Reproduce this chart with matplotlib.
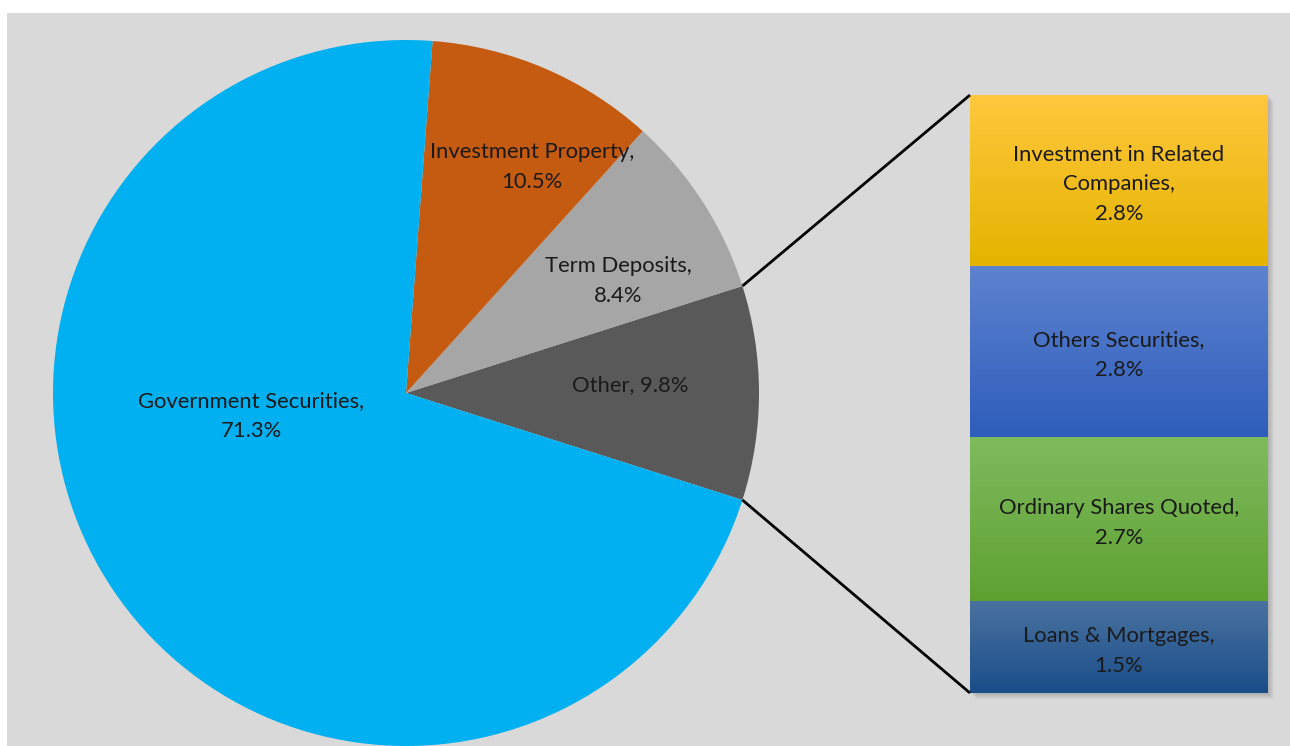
import numpy as np
import matplotlib.pyplot as plt
from matplotlib.patches import Rectangle
from matplotlib.colors import to_rgb

plt.rcParams['font.family'] = ['Lato', 'DejaVu Sans']

# main pie (the "Other" slice is broken out into the bar on the right)
pie_labels = ["Other", "Term Deposits", "Investment Property", "Government Securities"]
pie_values = [9.8, 8.4, 10.5, 71.3]
pie_colors = ["#595959", "#a6a6a6", "#c55a11", "#00b0f0"]

# breakdown of "Other", bottom to top
bar_labels = ["Loans & Mortgages", "Ordinary Shares Quoted", "Others Securities",
              "Investment in Related\nCompanies"]
bar_values = [1.5, 2.7, 2.8, 2.8]
bar_top = ["#4a72a0", "#7ebb5e", "#5d83cf", "#ffc73d"]
bar_bottom = ["#1a4e89", "#5fa131", "#2e5dbb", "#e4b400"]

W, H = 1290, 746
fig = plt.figure(figsize=(W / 100, H / 100), dpi=100)
ax = fig.add_axes([0, 0, 1, 1])
ax.add_patch(Rectangle((7, 0), W - 7, H - 13, facecolor="#d9d9d9", zorder=0))

txt = dict(color="#1a1a1a", fontsize=15.8, ha="center", va="center", linespacing=1.62)

# pie, rotated so the "Other" slice is centred on the horizontal
cx, cy, r = 406, 353, 353
start = -pie_values[0] / 2 * 3.6
wedges, _ = ax.pie(pie_values, colors=pie_colors, startangle=start, counterclock=True,
                   center=(cx, cy), radius=r, frame=True,
                   wedgeprops=dict(linewidth=0, zorder=2))

label_pos = [(630, 361), (618, 465), (532, 579), (251, 330)]
for lab, v, (lx, ly) in zip(pie_labels, pie_values, label_pos):
    if lab == "Other":
        s = f"{lab}, {v}%"
    else:
        s = f"{lab},\n{v}%"
    ax.text(lx, ly, s, zorder=5, **txt)

# stacked bar for the breakdown of "Other"
bx0, bx1 = 970, 1268
by0, by1 = 53, 651
scale = (by1 - by0) / sum(bar_values)
bottoms = by0 + scale * np.concatenate([[0], np.cumsum(bar_values)[:-1]])
bc = (bx0 + bx1) / 2
bw = bx1 - bx0

# soft shadow
for k in range(1, 7):
    ax.add_patch(Rectangle((bx0 + k, by0 - k), bw, by1 - by0,
                           facecolor="black", alpha=0.03, linewidth=0, zorder=1))

bars = ax.bar(bc, np.array(bar_values) * scale, width=bw, bottom=bottoms,
              color="none", linewidth=0, zorder=3)
for b, c0, c1 in zip(bars, bar_top, bar_bottom):
    t = np.linspace(0, 1, 64)[:, None]
    grad = (1 - t) * np.array(to_rgb(c0)) + t * np.array(to_rgb(c1))
    grad = grad[:, None, :].repeat(2, axis=1)
    x0, y0 = b.get_x(), b.get_y()
    im = ax.imshow(grad, extent=(x0, x0 + b.get_width(), y0, y0 + b.get_height()),
                   aspect="auto", origin="upper", zorder=3, interpolation="bilinear")
    im.set_clip_path(b)

for b, lab, v in zip(bars, bar_labels, bar_values):
    ax.text(bc, b.get_y() + b.get_height() / 2 - 4, f"{lab},\n{v}%", zorder=5, **txt)

# connector lines from the edges of the "Other" slice to the bar corners
a = np.deg2rad(pie_values[0] / 2 * 3.6)
ex, ey = cx + r * np.cos(a), r * np.sin(a)
ax.plot([ex, bx0], [cy + ey, by1], color="black", lw=2, zorder=4, solid_capstyle="butt")
ax.plot([ex, bx0], [cy - ey, by0], color="black", lw=2, zorder=4, solid_capstyle="butt")

ax.set_xlim(0, W)
ax.set_ylim(0, H)
ax.set_aspect("equal")
ax.axis("off")
fig.savefig("out.png", dpi=100, facecolor="white")
